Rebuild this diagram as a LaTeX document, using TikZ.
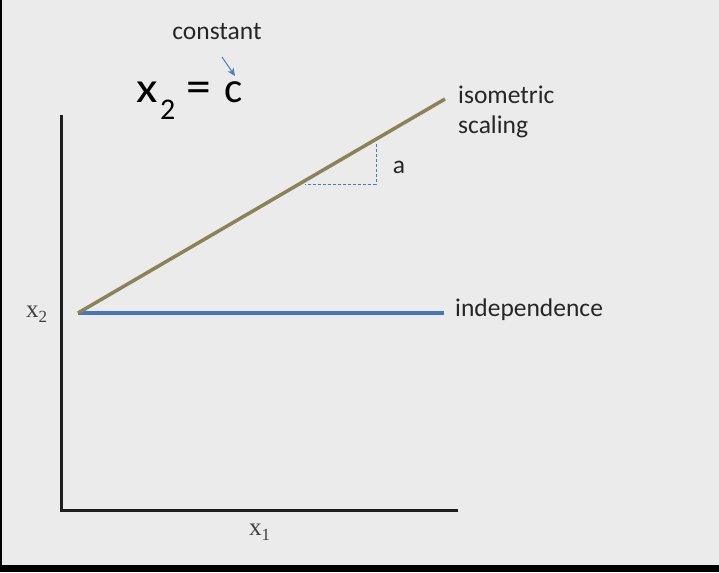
\documentclass[tikz,border=0pt]{standalone}
\usepackage{fontspec}
\setmainfont{Carlito}
\newfontfamily\serifx{Liberation Serif}
\usetikzlibrary{arrows.meta}
\definecolor{bg}{HTML}{EBEBEB}
\definecolor{olive}{HTML}{8C8259}
\definecolor{lineblue}{HTML}{4676C0}
\definecolor{thinblue}{HTML}{4A7EBB}
\definecolor{axisc}{HTML}{1E1E1E}
\tikzset{
  axisline/.style={draw=axisc, line width=3pt},
  isoline/.style={draw=olive, line width=3.5pt},
  indline/.style={draw=lineblue, line width=3.5pt},
  dashline/.style={draw=thinblue, line width=0.8pt, dash pattern=on 3pt off 2pt},
  lbl/.style={inner sep=0pt, font=\fontsize{25.5}{30}\selectfont, text=black!85},
  eqpart/.style={inner sep=0pt, text=black},
  axlbl/.style={inner sep=0pt, font=\serifx\fontsize{25}{28}\selectfont, text=black!75},
  callout/.style={draw=thinblue, line width=1pt, -{Stealth[length=8pt,width=7pt]}}
}
\begin{document}
\begin{tikzpicture}[x=1pt,y=-1pt]
\fill[bg] (0,0) rectangle (719,572);
\useasboundingbox (0,0) rectangle (719,572);
\fill[black] (0,0) rectangle (1.5,572);
\fill[black] (0,565) rectangle (719,572);
% axes
\coordinate (ytop) at (61,115);
\coordinate (orig) at (61,510);
\coordinate (xend) at (458,510);
\draw[axisline] (ytop) -- (orig) -- (xend);
% lines
\coordinate (p0) at (78,313);
\coordinate (isoend) at (445,99);
\coordinate (indend) at (444,313);
\draw[indline] (p0) -- (indend);
\draw[isoline] (p0) -- (isoend);
% slope triangle
\coordinate (d1) at (376,144);
\coordinate (d2) at (376,184);
\coordinate (d3) at (305,184);
\draw[dashline] (d1) -- (d2) -- (d3);
\node[lbl, anchor=base] (a) at (399,173) {a};
% labels
\node[lbl, anchor=base west] (iso1) at (458,104) {isometric};
\node[lbl, anchor=base west] (iso2) at (458,134) {scaling};
\node[lbl, anchor=base west] (ind) at (455,316) {independence};
\node[lbl, anchor=base] (const) at (217,40) {constant};
\node[eqpart, anchor=base west, font=\fontsize{43}{45}\selectfont] (eqx) at (136,102.5) {\scalebox{1.15}[1]{x}};
\node[eqpart, anchor=base west, font=\fontsize{30}{32}\selectfont] (eq2) at (160,120) {2};
\node[eqpart, anchor=base west, font=\fontsize{43}{45}\selectfont] (eqeq) at (186,102.5) {\scalebox{1.15}[1.1]{=}};
\node[eqpart, anchor=base west, font=\fontsize{43}{45}\selectfont] (eqc) at (224,102.5) {c};
\coordinate (arrstart) at (222,57);
\coordinate (arrtip) at (235,76);
\draw[callout] (arrstart) -- (arrtip);
\node[axlbl, anchor=base west] (x2) at (26,317) {x\raisebox{-5pt}{\fontsize{17}{19}\selectfont 2}};
\node[axlbl, anchor=base west] (x1) at (249,535) {x\raisebox{-5pt}{\fontsize{17}{19}\selectfont 1}};
\end{tikzpicture}
\end{document}
